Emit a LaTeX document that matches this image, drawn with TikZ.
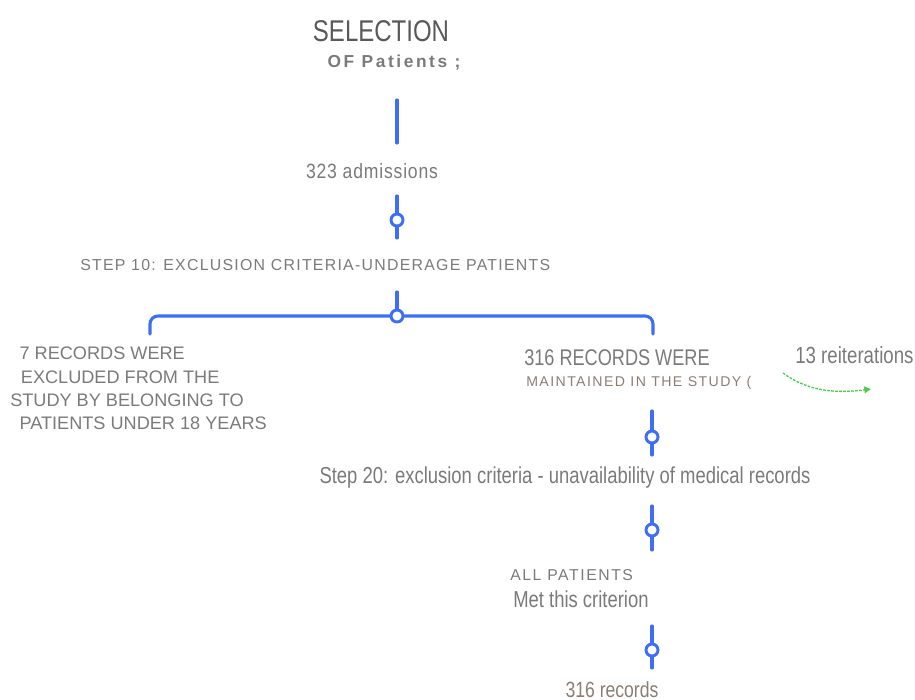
\documentclass[tikz,border=0pt]{standalone}
\usepackage{fontspec}
\setmainfont{Liberation Sans}
\newfontfamily\narrowf[FakeStretch=0.80]{Liberation Sans}
\newfontfamily\spacedf[LetterSpace=8]{Liberation Sans}
\newfontfamily\wspacedf[LetterSpace=10]{Liberation Sans}
\newfontfamily\xspacedf[LetterSpace=15]{Liberation Sans}
\newfontfamily\nspacedf[FakeStretch=0.85,LetterSpace=4]{Liberation Sans}
\usetikzlibrary{arrows.meta}
\definecolor{lineblue}{HTML}{3D6EF5}
\definecolor{txtgray}{HTML}{7A7A7A}
\definecolor{txtbrown}{HTML}{8C7D74}
\definecolor{arrgreen}{HTML}{4CCB4C}
\begin{document}
\begin{tikzpicture}[x=0.75pt,y=-0.75pt,
  conn/.style={draw=lineblue,line width=2.3pt,line cap=round},
  knot/.style={circle,draw=lineblue,line width=2.2pt,fill=white,inner sep=0pt,minimum size=9pt},
  lbl/.style={text=txtgray,inner sep=0pt,font=\narrowf},
]
\useasboundingbox (0,0) rectangle (915,700);
% titles
\node[lbl,font=\narrowf\fontsize{22.5}{24}\selectfont,text=black!65] (title) at (381,31) {SELECTION};
\node[lbl,font=\xspacedf\bfseries\fontsize{13}{14}\selectfont] (sub) at (394,63) {OF Patients ;};
\coordinate (t1) at (397,100);
\coordinate (t2) at (397,143);
\draw[conn] (t1) -- (t2);
\node[lbl,font=\nspacedf\fontsize{15.5}{17}\selectfont] (adm) at (372,171) {323 admissions};
% knot 1
\node[knot] (k1) at (397,220) {};
\coordinate (k1a) at (397,196);
\coordinate (k1b) at (397,238);
\draw[conn] (k1a) -- (k1.north);
\draw[conn] (k1.south) -- (k1b);
\node[lbl,font=\spacedf\fontsize{11.9}{13}\selectfont,anchor=west] (step10) at (80,265) {STEP 10: EXCLUSION CRITERIA-UNDERAGE PATIENTS};
% branch
\node[knot] (k2) at (397,316) {};
\coordinate (k2a) at (397,292);
\coordinate (bl) at (150,334);
\coordinate (br) at (653,334);
\draw[conn] (k2a) -- (k2.north);
\draw[conn,rounded corners=6pt] (k2.west) -| (bl);
\draw[conn,rounded corners=6pt] (k2.east) -| (br);
% left block
\node[lbl,font=\fontsize{13.6}{17.5}\selectfont,align=left,anchor=north west] (left) at (10,347)
  {\hspace*{7pt}7 RECORDS WERE\\ \hspace*{8pt}EXCLUDED FROM THE\\ STUDY BY BELONGING TO\\ \hspace*{7pt}PATIENTS UNDER 18 YEARS};
% right block
\node[lbl,font=\narrowf\fontsize{17}{19}\selectfont,anchor=west] (r1) at (524,358) {316 RECORDS WERE};
\node[lbl,font=\wspacedf\fontsize{10.6}{12}\selectfont,text=txtbrown,anchor=west] (r2) at (526,383) {MAINTAINED IN THE STUDY (};
\node[lbl,font=\narrowf\fontsize{17.5}{19}\selectfont,anchor=west] (reit) at (795,355) {13 reiterations};
\coordinate (g1) at (783,373);
\coordinate (g2) at (871,389);
\draw[arrgreen,line width=1pt,dash pattern=on 2pt off 1pt,-{Triangle[length=5pt,width=5pt]}] (g1) .. controls (810,393) and (840,393) .. (g2);
% knot 3
\node[knot] (k3) at (652,437) {};
\coordinate (k3a) at (652,411);
\coordinate (k3b) at (652,455);
\draw[conn] (k3a) -- (k3.north);
\draw[conn] (k3.south) -- (k3b);
\node[lbl,font=\narrowf\fontsize{17.3}{19}\selectfont] (step20) at (565,478) {Step 20: exclusion criteria - unavailability of medical records};
% knot 4
\node[knot] (k4) at (652,530) {};
\coordinate (k4a) at (652,506);
\coordinate (k4b) at (652,550);
\draw[conn] (k4a) -- (k4.north);
\draw[conn] (k4.south) -- (k4b);
\node[lbl,font=\wspacedf\fontsize{11.8}{13}\selectfont,anchor=west] (allp) at (510,575) {ALL PATIENTS};
\node[lbl,font=\narrowf\fontsize{17.3}{19}\selectfont,anchor=west] (met) at (513,599) {Met this criterion};
% knot 5
\node[knot] (k5) at (652,650) {};
\coordinate (k5a) at (652,626);
\coordinate (k5b) at (652,668);
\draw[conn] (k5a) -- (k5.north);
\draw[conn] (k5.south) -- (k5b);
\node[lbl,font=\narrowf\fontsize{16.5}{18}\selectfont,text=txtbrown,anchor=base] (final) at (612,697) {316 records};
\end{tikzpicture}
\end{document}
